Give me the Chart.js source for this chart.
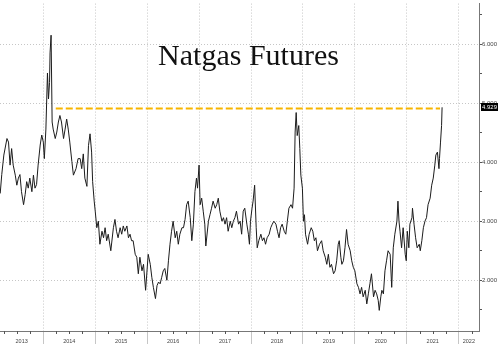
<!DOCTYPE html>
<html lang="en">
<head>
<meta charset="UTF-8">
<title>Natgas Futures</title>
<script src="https://cdn.jsdelivr.net/npm/chart.js"></script>
<style>
  html, body { margin: 0; padding: 0; background: #fff; }
  #wrap { position: relative; width: 500px; height: 344px; }
  #title {
    position: absolute; left: 0; top: 40px; width: 497px; text-align: center;
    font-family: "Liberation Serif", "Times New Roman", serif; font-size: 30px;
    line-height: 1; color: #111; pointer-events: none;
  }
</style>
</head>
<body>
<div id="wrap">
  <canvas id="chart" width="500" height="344"></canvas>
  <div id="title">Natgas Futures</div>
</div>
<script>
// front-month closes (decimal year -> $/MMBtu)
const dates = [
  2013.17,2013.20,2013.24,2013.30,2013.33,2013.36,2013.39,2013.42,2013.46,2013.49,
  2013.52,2013.55,2013.58,2013.62,2013.65,2013.68,2013.71,2013.74,2013.78,2013.81,
  2013.84,2013.87,2013.90,2013.94,2013.97,2014.00,2014.02,2014.05,2014.08,2014.10,
  2014.12,2014.13,2014.15,2014.17,2014.19,2014.23,2014.26,2014.29,2014.32,2014.35,
  2014.39,2014.42,2014.45,2014.48,2014.51,2014.55,2014.58,2014.63,2014.67,2014.71,
  2014.74,2014.77,2014.80,2014.84,2014.87,2014.90,2014.93,2014.95,2014.98,2015.00,
  2015.03,2015.06,2015.09,2015.13,2015.16,2015.19,2015.22,2015.25,2015.30,2015.35,
  2015.38,2015.41,2015.44,2015.48,2015.51,2015.54,2015.57,2015.61,2015.64,2015.67,
  2015.70,2015.73,2015.77,2015.80,2015.83,2015.86,2015.90,2015.93,2015.97,2016.02,
  2016.06,2016.09,2016.12,2016.16,2016.19,2016.22,2016.25,2016.28,2016.31,2016.34,
  2016.38,2016.41,2016.44,2016.47,2016.50,2016.54,2016.57,2016.60,2016.63,2016.67,
  2016.70,2016.73,2016.76,2016.79,2016.83,2016.86,2016.89,2016.92,2016.95,2016.97,
  2017.00,2017.02,2017.05,2017.08,2017.11,2017.13,2017.18,2017.21,2017.24,2017.27,
  2017.31,2017.34,2017.37,2017.40,2017.44,2017.47,2017.50,2017.53,2017.56,2017.60,
  2017.63,2017.66,2017.69,2017.72,2017.76,2017.79,2017.82,2017.85,2017.88,2017.92,
  2017.95,2017.97,2017.99,2018.02,2018.04,2018.07,2018.10,2018.12,2018.15,2018.19,
  2018.22,2018.25,2018.28,2018.31,2018.35,2018.38,2018.41,2018.44,2018.48,2018.51,
  2018.54,2018.57,2018.60,2018.64,2018.67,2018.70,2018.73,2018.77,2018.80,2018.83,
  2018.85,2018.87,2018.89,2018.92,2018.94,2018.96,2018.99,2019.01,2019.03,2019.05,
  2019.09,2019.12,2019.16,2019.19,2019.22,2019.25,2019.28,2019.32,2019.36,2019.39,
  2019.43,2019.46,2019.49,2019.52,2019.55,2019.59,2019.62,2019.65,2019.68,2019.70,
  2019.73,2019.75,2019.78,2019.81,2019.84,2019.87,2019.91,2019.94,2019.97,2020.00,
  2020.04,2020.07,2020.10,2020.13,2020.16,2020.20,2020.23,2020.26,2020.29,2020.32,
  2020.36,2020.39,2020.42,2020.45,2020.47,2020.50,2020.52,2020.55,2020.58,2020.61,
  2020.64,2020.68,2020.71,2020.74,2020.77,2020.81,2020.83,2020.85,2020.87,2020.90,
  2020.93,2020.97,2020.99,2021.01,2021.04,2021.06,2021.10,2021.11,2021.14,2021.17,
  2021.20,2021.24,2021.26,2021.29,2021.32,2021.35,2021.38,2021.41,2021.45,2021.48,
  2021.51,2021.54,2021.56,2021.59,2021.62,2021.63,2021.65,2021.67,2021.68
];
const prices = [
  3.47,3.79,4.12,4.40,4.34,3.95,4.23,3.95,3.78,3.61,
  3.73,3.79,3.50,3.28,3.45,3.67,3.56,3.73,3.50,3.78,
  3.56,3.62,3.95,4.29,4.46,4.34,4.06,4.56,5.51,5.07,
  5.35,5.85,6.15,4.68,4.56,4.40,4.51,4.68,4.79,4.68,
  4.40,4.56,4.73,4.56,4.34,4.01,3.78,3.89,4.06,4.06,
  3.89,4.14,3.73,3.59,4.28,4.48,4.17,3.67,3.34,3.17,
  2.89,3.00,2.61,2.83,2.72,2.89,2.67,2.78,2.50,2.89,
  3.03,2.83,2.72,2.89,2.78,2.92,2.83,2.92,2.72,2.78,
  2.67,2.67,2.44,2.39,2.11,2.39,2.16,2.27,1.83,2.44,
  2.27,2.05,1.88,1.69,1.91,1.97,1.94,2.05,2.16,2.20,
  2.00,2.33,2.61,2.83,3.00,2.72,2.83,2.61,2.78,2.89,
  2.89,3.03,3.28,3.34,3.06,2.67,2.95,3.50,3.73,3.56,
  3.95,3.28,3.39,3.17,2.95,2.58,3.00,3.11,3.22,3.34,
  3.22,3.28,3.39,3.17,3.00,3.06,2.95,3.06,2.83,3.00,
  2.89,3.00,3.06,3.17,2.95,3.00,2.78,3.17,3.22,2.95,
  2.78,2.61,3.00,3.22,3.34,3.61,2.89,2.55,2.67,2.78,
  2.67,2.72,2.61,2.72,2.78,2.89,2.95,3.00,2.95,2.83,
  2.72,2.89,2.95,2.83,2.78,3.00,3.22,3.28,3.22,3.56,
  4.51,4.84,4.45,4.62,4.23,3.78,3.56,3.00,3.11,2.78,
  2.61,2.78,2.89,2.83,2.67,2.72,2.50,2.61,2.67,2.50,
  2.39,2.27,2.44,2.22,2.27,2.11,2.16,2.33,2.61,2.67,
  2.39,2.27,2.33,2.55,2.86,2.61,2.50,2.33,2.22,2.16,
  1.94,1.88,1.77,1.88,1.72,1.83,1.60,1.77,1.94,2.11,
  1.72,1.83,1.77,1.66,1.49,1.72,1.83,1.77,2.16,2.33,
  2.50,2.44,1.88,2.55,2.78,3.00,3.34,3.00,2.83,2.55,
  2.89,2.44,2.33,2.83,2.55,2.95,3.06,3.22,2.95,2.72,
  2.55,2.61,2.50,2.67,2.89,3.00,3.06,3.28,3.39,3.61,
  3.73,3.95,4.12,4.17,3.89,4.06,4.34,4.62,4.929
];
const yearLabels = ['2013','2014','2015','2016','2017','2018','2019','2020','2021','2022'];
const yTicks = [2, 3, 4, 5, 6];
const lastText = '4.929';

// orange reference level (2014 high carried forward)
const refLevel = 4.91;
const refFrom = 2014.24;
const refTo = 2021.64;

// visible window
const xMin = 2013.166, xMax = 2022.391;
const yMin = 1.141, yMax = 6.685;

Chart.defaults.font.family = '"Liberation Sans", Arial, sans-serif';

const isWhole = v => Math.abs(v - Math.round(v)) < 1e-6;
const gridGray = '#c6c6c6';

function xTickValues() {
  const out = [];
  for (let yr = 2014; yr <= 2022; yr++) out.push(yr);
  // label positions: middle of the visible part of each year
  for (let yr = 2013; yr <= 2022; yr++) {
    const a = Math.max(yr, xMin), b = Math.min(yr + 1, xMax);
    out.push((a + b) / 2);
  }
  return out.sort((a, b) => a - b);
}

function yTickValues() {
  const out = [];
  for (let v = 1.5; v <= 6.5; v += 0.5) out.push(v);
  return out;
}

const extras = {
  id: 'extras',
  afterDraw(chart) {
    const { ctx, chartArea } = chart;
    const x = chart.scales.x, y = chart.scales.y;
    ctx.save();
    // quarterly minor ticks under the x axis
    ctx.strokeStyle = '#555';
    ctx.lineWidth = 1;
    for (let yr = 2013; yr <= 2022; yr++) {
      [0.25, 0.5, 0.75].forEach(q => {
        const v = yr + q;
        if (v < xMin || v > xMax) return;
        const px = Math.round(x.getPixelForValue(v)) + 0.5;
        ctx.beginPath();
        ctx.moveTo(px, chartArea.bottom);
        ctx.lineTo(px, chartArea.bottom + 3);
        ctx.stroke();
      });
    }
    // last value tag on the right axis
    const py = y.getPixelForValue(prices[prices.length - 1]);
    ctx.fillStyle = '#000';
    ctx.fillRect(chartArea.right + 2, Math.round(py) - 4, 17, 8);
    ctx.fillStyle = '#fff';
    ctx.font = '6px "Liberation Sans", Arial, sans-serif';
    ctx.textBaseline = 'middle';
    ctx.textAlign = 'left';
    ctx.fillText(lastText, chartArea.right + 3, Math.round(py) + 0.5);
    ctx.restore();
  }
};

new Chart(document.getElementById('chart'), {
  type: 'line',
  data: {
    datasets: [
      {
        data: dates.map((d, i) => ({ x: d, y: prices[i] })),
        borderColor: '#1c1c1c',
        borderWidth: 1,
        pointRadius: 0,
        tension: 0,
        fill: false
      },
      {
        data: [{ x: refFrom, y: refLevel }, { x: refTo, y: refLevel }],
        borderColor: '#f7b500',
        borderWidth: 2,
        borderDash: [7, 3],
        pointRadius: 0,
        fill: false
      }
    ]
  },
  options: {
    responsive: false,
    animation: false,
    events: [],
    layout: { padding: 0 },
    plugins: { legend: { display: false }, tooltip: { enabled: false } },
    scales: {
      x: {
        type: 'linear',
        position: 'bottom',
        min: xMin,
        max: xMax,
        afterBuildTicks: s => { s.ticks = xTickValues().map(v => ({ value: v })); },
        afterFit: s => { s.height = 13; },
        grid: {
          color: c => (c.tick && isWhole(c.tick.value)) ? gridGray : 'rgba(0,0,0,0)',
          tickColor: c => (c.tick && isWhole(c.tick.value)) ? gridGray : 'rgba(0,0,0,0)',
          tickLength: 13,
          lineWidth: 1
        },
        border: { color: '#777', dash: [1, 2] },
        ticks: {
          autoSkip: false,
          maxRotation: 0,
          padding: -6,
          color: '#444',
          font: { size: 5.5 },
          callback: v => isWhole(v) ? '' : yearLabels[Math.floor(v) - 2013]
        }
      },
      y: {
        type: 'linear',
        position: 'right',
        min: yMin,
        max: yMax,
        afterBuildTicks: s => { s.ticks = yTickValues().map(v => ({ value: v })); },
        afterFit: s => { s.width = 21; },
        grid: {
          color: c => (c.tick && isWhole(c.tick.value)) ? gridGray : 'rgba(0,0,0,0)',
          tickColor: '#555',
          tickLength: 3,
          lineWidth: 1
        },
        border: { color: '#777', dash: [1, 2] },
        ticks: {
          autoSkip: false,
          padding: 0,
          color: '#444',
          font: { size: 6 },
          callback: v => yTicks.includes(v) ? v.toFixed(3) : ''
        }
      }
    }
  },
  plugins: [extras]
});
</script>
</body>
</html>
